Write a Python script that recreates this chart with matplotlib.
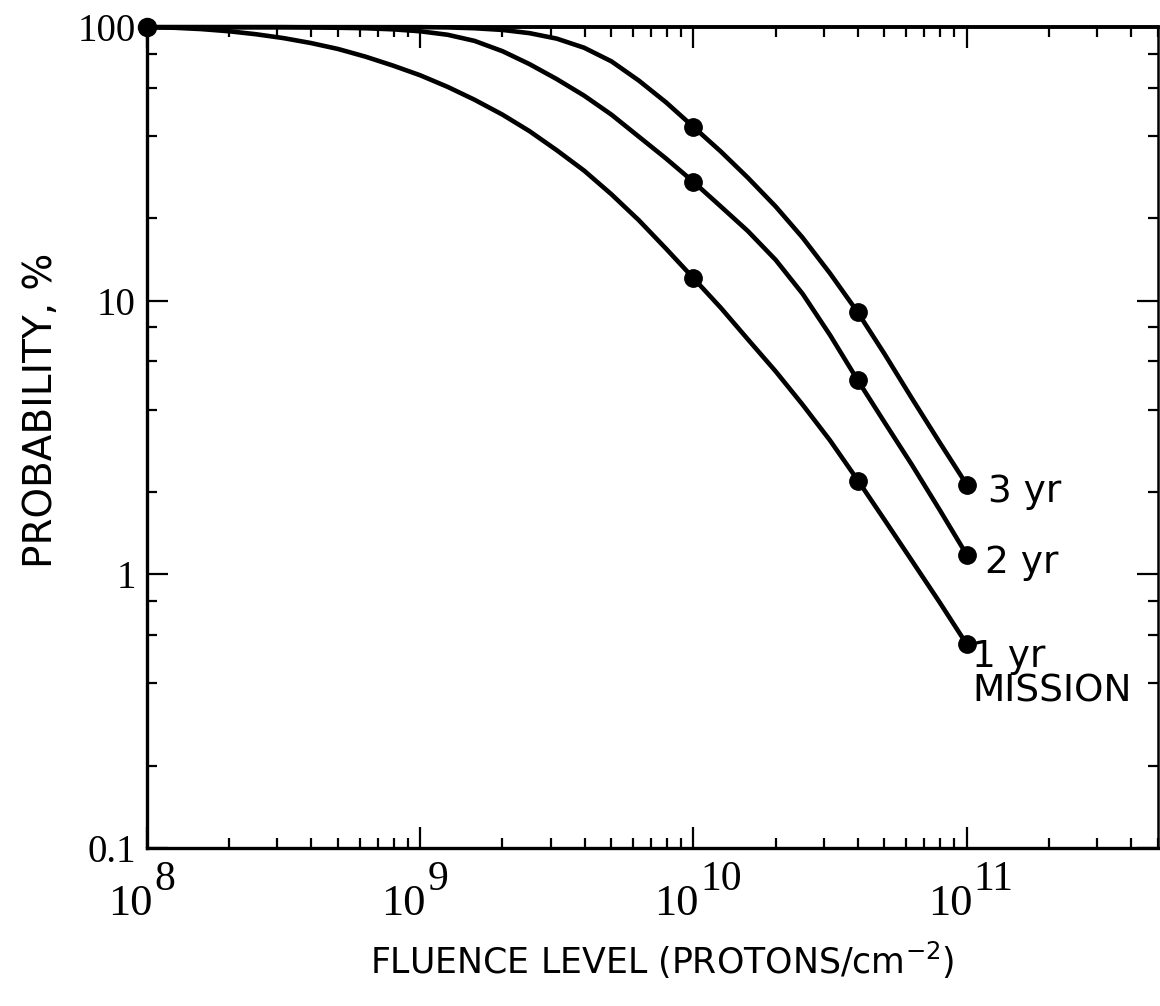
import numpy as np
import matplotlib

matplotlib.use("Agg")
import matplotlib.pyplot as plt
from matplotlib import font_manager
from matplotlib.ticker import LogLocator, FixedLocator, FixedFormatter, NullFormatter


def pick_font(names):
    for n in names:
        try:
            font_manager.findfont(n, fallback_to_default=False)
            return n
        except ValueError:
            pass
    return "DejaVu Sans"


SANS = pick_font(["Liberation Sans Narrow", "DejaVu Sans"])
SERIF = pick_font(["Liberation Serif", "DejaVu Serif"])

# --- data (fluence in protons/cm^2, probability in %) ----
# fluence sampled every 0.1 decade from 1e8 to 1e11
fluence = [1e8, 1.26e8, 1.58e8, 2.0e8, 2.51e8, 3.16e8, 3.98e8, 5.01e8, 6.31e8, 7.94e8,
           1e9, 1.26e9, 1.58e9, 2.0e9, 2.51e9, 3.16e9, 3.98e9, 5.01e9, 6.31e9, 7.94e9,
           1e10, 1.26e10, 1.58e10, 2.0e10, 2.51e10, 3.16e10, 3.98e10, 5.01e10, 6.31e10, 7.94e10,
           1e11]
prob_1yr = [100, 99.5, 98.4, 96.6, 94.2, 91.2, 87.5, 83.2, 78.0, 72.4,
            66.7, 60.5, 54.3, 47.9, 41.7, 35.5, 29.9, 24.5, 19.7, 15.5,
            12.1, 9.42, 7.24, 5.52, 4.17, 3.09, 2.22, 1.58, 1.12, 0.794,
            0.556]
prob_2yr = [100, 100, 100, 100, 100, 100, 99.8, 99.5, 99.1, 98.2,
            96.6, 93.8, 89.1, 81.7, 73.3, 64.6, 56.2, 47.9, 39.8, 33.1,
            27.2, 22.1, 18.0, 14.1, 10.6, 7.50, 5.15, 3.59, 2.51, 1.73,
            1.18]
prob_3yr = [100, 100, 100, 100, 100, 100, 100, 100, 100, 100,
            100, 99.8, 99.1, 97.7, 95.1, 90.8, 84.1, 75.0, 63.8, 53.1,
            43.2, 35.1, 28.2, 22.1, 17.0, 12.6, 9.12, 6.38, 4.39, 3.05,
            2.13]

# computed points marked with dots
mark_fluence = [1e10, 4e10, 1e11]
mark_1yr = [12.1, 2.2, 0.556]
mark_2yr = [27.2, 5.15, 1.18]
mark_3yr = [43.2, 9.1, 2.13]
start_point = (1e8, 100)

curve_labels = ["1 yr\nMISSION", "2 yr", "3 yr"]
y_ticks = [0.1, 1, 10, 100]
y_ticklabels = ["0.1", "1", "10", "100"]
x_ticks = [1e8, 1e9, 1e10, 1e11]
x_exponents = ["8", "9", "10", "11"]

fig = plt.figure(figsize=(11.6, 10.06), dpi=100)
ax = fig.add_axes([0.1267, 0.157, 0.8713, 0.816])

for py, my in [(prob_1yr, mark_1yr), (prob_2yr, mark_2yr), (prob_3yr, mark_3yr)]:
    ax.plot(fluence, py, "-", color="black", lw=3.3, solid_joinstyle="round",
            solid_capstyle="round", clip_on=False)
    ax.plot(mark_fluence, my, "o", color="black", ms=12.5, clip_on=False)
ax.plot(*start_point, "o", color="black", ms=13, clip_on=False, zorder=5)

ax.set_xscale("log")
ax.set_yscale("log")
ax.set_xlim(1e8, 5e11)
ax.set_ylim(0.1, 100)

# end-of-curve labels
ax.annotate(curve_labels[2], (mark_fluence[-1], mark_3yr[-1]), xytext=(15, -5),
            textcoords="offset points", va="center", ha="left", fontsize=27, family=SANS)
ax.annotate(curve_labels[1], (mark_fluence[-1], mark_2yr[-1]), xytext=(13, -6),
            textcoords="offset points", va="center", ha="left", fontsize=27, family=SANS)
ax.annotate(curve_labels[0], (mark_fluence[-1], mark_1yr[-1]), xytext=(4, 4),
            textcoords="offset points", va="top", ha="left", fontsize=27, family=SANS,
            linespacing=0.95)

# ticks: inward on all four sides, like the printed graph paper
ax.xaxis.set_major_locator(FixedLocator(x_ticks))
ax.xaxis.set_major_formatter(NullFormatter())
ax.xaxis.set_minor_locator(LogLocator(base=10, subs=np.arange(2, 10), numticks=20))
ax.xaxis.set_minor_formatter(NullFormatter())
ax.yaxis.set_major_locator(FixedLocator(y_ticks))
ax.yaxis.set_major_formatter(FixedFormatter(y_ticklabels))
ax.yaxis.set_minor_locator(LogLocator(base=10, subs=(2, 4, 6, 8), numticks=20))
ax.yaxis.set_minor_formatter(NullFormatter())

ax.tick_params(which="both", direction="in", top=True, right=True, color="black", width=1.6)
ax.tick_params(which="major", length=15)
ax.tick_params(which="minor", length=7.5)
ax.tick_params(axis="y", which="major", pad=8, labelsize=28)
for lab in ax.get_yticklabels():
    lab.set_family(SERIF)

# x tick labels "10" with a large raised exponent, as lettered on the original
xtrans = ax.get_xaxis_transform()
for t, e in zip(x_ticks, x_exponents):
    ax.annotate("10", (t, 0), xycoords=xtrans, xytext=(4, -48), textcoords="offset points",
                ha="right", va="baseline", fontsize=32, family=SERIF, annotation_clip=False)
    ax.annotate(e, (t, 0), xycoords=xtrans, xytext=(5, -30), textcoords="offset points",
                ha="left", va="baseline", fontsize=30, family=SERIF, annotation_clip=False)

ax.spines["top"].set_linewidth(2.8)
for side in ["left", "bottom"]:
    ax.spines[side].set_linewidth(2.4)
ax.spines["right"].set_linewidth(1.8)

ax.set_xlabel(r"FLUENCE LEVEL (PROTONS/cm$^{\mathregular{-2}}$)", fontsize=25, family=SANS)
ax.set_ylabel("PROBABILITY, %", fontsize=28, family=SANS)
ax.xaxis.set_label_coords(0.51, -0.137)
ax.xaxis.label.set_va("center")
ax.yaxis.set_label_coords(-0.105, 0.533)
ax.yaxis.label.set_va("center")

fig.savefig("out.png", dpi=100)
